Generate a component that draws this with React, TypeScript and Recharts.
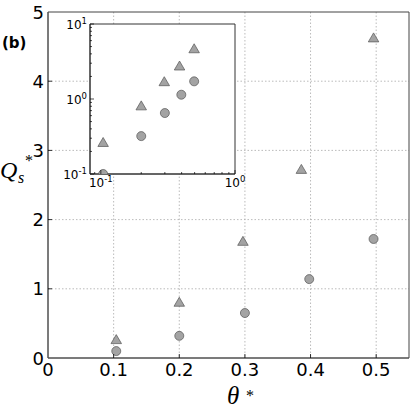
import React from "react";
import { ScatterChart, Scatter, XAxis, YAxis, CartesianGrid, ReferenceArea } from "recharts";

// ---- data ----
const thetaTri = [0.104, 0.2, 0.297, 0.386, 0.496];
const qTri = [0.26, 0.8, 1.68, 2.72, 4.62];
const thetaCirc = [0.104, 0.2, 0.3, 0.398, 0.496];
const qCirc = [0.1, 0.32, 0.65, 1.14, 1.72];

const mainXTicks = [0, 0.1, 0.2, 0.3, 0.4, 0.5];
const mainXLabels = ["0", "0.1", "0.2", "0.3", "0.4", "0.5"];
const mainYTicks = [0, 1, 2, 3, 4, 5];
const mainYLabels = ["0", "1", "2", "3", "4", "5"];
const mainXGrid = [0.1, 0.2, 0.3, 0.4, 0.5];
const mainYGrid = [1, 2, 3, 4];

const insetXMajor = [0.1, 1];
const insetXMajorExp = ["-1", "0"];
const insetYMajor = [0.1, 1, 10];
const insetYMajorExp = ["-1", "0", "1"];
const insetXMinor = [0.09, 0.2, 0.3, 0.4, 0.5, 0.6, 0.7, 0.8, 0.9];
const insetYMinor = [0.2, 0.3, 0.4, 0.5, 0.6, 0.7, 0.8, 0.9, 2, 3, 4, 5, 6, 7, 8, 9];

const triData = thetaTri.map((x, i) => ({ x, y: qTri[i] }));
const circData = thetaCirc.map((x, i) => ({ x, y: qCirc[i] }));

const FILL = "#a3a3a3";
const EDGE = "#555555";
const SANS = "'DejaVu Sans', sans-serif";
const SERIF = "'Liberation Serif', 'DejaVu Serif', serif";

const Triangle = (r: number) => (props: any) => {
  const { cx, cy } = props;
  if (cx == null || cy == null) return <g />;
  const h = r * 1.8;
  const w = r * 2.1;
  const pts = `${cx},${cy - h * 0.6} ${cx - w / 2},${cy + h * 0.4} ${cx + w / 2},${cy + h * 0.4}`;
  return <polygon points={pts} fill={FILL} stroke={EDGE} strokeWidth={0.7} />;
};
const Circle = (r: number) => (props: any) => {
  const { cx, cy } = props;
  if (cx == null || cy == null) return <g />;
  return <circle cx={cx} cy={cy} r={r} fill={FILL} stroke={EDGE} strokeWidth={0.7} />;
};

// main ticks
const MainXTick = (props: any) => {
  const { x, y, payload } = props;
  const i = mainXTicks.indexOf(payload.value);
  return (
    <g>
      {payload.value !== 0 ? (
        <line x1={x} x2={x} y1={y} y2={y - 4} stroke="#000" strokeWidth={0.8} />
      ) : null}
      <text x={x} y={y + 18} textAnchor="middle" fontFamily={SANS} fontSize={18} fill="#000">
        {mainXLabels[i]}
      </text>
    </g>
  );
};
const MainYTick = (props: any) => {
  const { x, y, payload } = props;
  const i = mainYTicks.indexOf(payload.value);
  return (
    <g>
      {payload.value !== 0 && payload.value !== 5 ? (
        <line x1={x} x2={x + 4} y1={y} y2={y} stroke="#000" strokeWidth={0.8} />
      ) : null}
      <text x={x - 4} y={y + 6.5} textAnchor="end" fontFamily={SANS} fontSize={18} fill="#000">
        {mainYLabels[i]}
      </text>
    </g>
  );
};

// inset ticks
const InsetXTick = (props: any) => {
  const { x, y, payload } = props;
  const mi = insetXMajor.indexOf(payload.value);
  const major = mi >= 0;
  return (
    <g>
      <line x1={x} x2={x} y1={y} y2={y - (major ? 4 : 2)} stroke="#000" strokeWidth={0.7} />
      {major ? (
        <text x={x} y={y + 13} textAnchor="middle" fontFamily={SANS} fontSize={12} fill="#000">
          10
          <tspan dy={-5} fontSize={8.5}>{insetXMajorExp[mi]}</tspan>
        </text>
      ) : null}
    </g>
  );
};
const InsetYTick = (props: any) => {
  const { x, y, payload } = props;
  const mi = insetYMajor.indexOf(payload.value);
  const major = mi >= 0;
  return (
    <g>
      <line x1={x} x2={x + (major ? 4 : 2)} y1={y} y2={y} stroke="#000" strokeWidth={0.7} />
      {major ? (
        <text x={x - 3} y={y + 4.5} textAnchor="end" fontFamily={SANS} fontSize={12} fill="#000">
          10
          <tspan dy={-5} fontSize={8.5}>{insetYMajorExp[mi]}</tspan>
        </text>
      ) : null}
    </g>
  );
};

export default function App() {
  const insetXTicks = [...insetXMajor, ...insetXMinor].sort((a, b) => a - b);
  const insetYTicks = [...insetYMajor, ...insetYMinor].sort((a, b) => a - b);
  return (
    <div style={{ position: "absolute", left: 0, top: 0, width: 415, height: 415, background: "#fff" }}>
      <div style={{ position: "absolute", left: 0, top: 0 }}>
        <ScatterChart width={415} height={415} margin={{ top: 12, right: 6, bottom: 0, left: 0 }}>
          <CartesianGrid
            xAxisId="b"
            yAxisId="l"
            stroke="#aaaaaa"
            strokeDasharray="1.5 2"
            strokeWidth={0.8}
            horizontalValues={mainYGrid}
            verticalValues={mainXGrid}
          />
          <XAxis
            xAxisId="b"
            type="number"
            dataKey="x"
            domain={[0, 0.55]}
            ticks={mainXTicks}
            interval={0}
            height={57}
            tickSize={0}
            tickMargin={0}
            tick={<MainXTick />}
            axisLine={{ stroke: "#555", strokeWidth: 1 }}
            tickLine={false}
            allowDataOverflow
          />
          <YAxis
            yAxisId="l"
            type="number"
            dataKey="y"
            domain={[0, 5]}
            ticks={mainYTicks}
            interval={0}
            width={48}
            tickSize={0}
            tickMargin={0}
            tick={<MainYTick />}
            axisLine={{ stroke: "#555", strokeWidth: 1 }}
            tickLine={false}
            allowDataOverflow
          />
          <ReferenceArea
            xAxisId="b"
            yAxisId="l"
            x1={0}
            x2={0.55}
            y1={0}
            y2={5}
            fill="none"
            fillOpacity={0}
            stroke="#444"
            strokeWidth={1}
            ifOverflow="visible"
          />
          <Scatter xAxisId="b" yAxisId="l" data={triData} shape={Triangle(5)} isAnimationActive={false} />
          <Scatter xAxisId="b" yAxisId="l" data={circData} shape={Circle(4.5)} isAnimationActive={false} />
        </ScatterChart>
      </div>
      <div style={{ position: "absolute", left: 0, top: 0 }}>
        <ScatterChart width={415} height={415} margin={{ top: 24, right: 180, bottom: 0, left: 0 }}>
          <ReferenceArea
            xAxisId="b"
            yAxisId="l"
            x1={0.083}
            x2={1}
            y1={0.1}
            y2={10}
            fill="#ffffff"
            fillOpacity={1}
            stroke="#333"
            strokeWidth={1}
            ifOverflow="visible"
          />
          <XAxis
            xAxisId="b"
            type="number"
            scale="log"
            dataKey="x"
            domain={[0.083, 1]}
            ticks={insetXTicks}
            interval={0}
            height={241}
            tickSize={0}
            tickMargin={0}
            tick={<InsetXTick />}
            axisLine={{ stroke: "#333", strokeWidth: 1 }}
            tickLine={false}
            allowDataOverflow
          />
          <YAxis
            yAxisId="l"
            type="number"
            scale="log"
            dataKey="y"
            domain={[0.1, 10]}
            ticks={insetYTicks}
            interval={0}
            width={90}
            tickSize={0}
            tickMargin={0}
            tick={<InsetYTick />}
            axisLine={{ stroke: "#333", strokeWidth: 1 }}
            tickLine={false}
            allowDataOverflow
          />
          <Scatter xAxisId="b" yAxisId="l" data={triData} shape={Triangle(5)} isAnimationActive={false} />
          <Scatter xAxisId="b" yAxisId="l" data={circData} shape={Circle(4.5)} isAnimationActive={false} />
        </ScatterChart>
      </div>
      <svg width={415} height={415} style={{ position: "absolute", left: 0, top: 0, pointerEvents: "none" }}>
        <text x={2} y={48} fontFamily={SANS} fontWeight="bold" fontSize={15} fill="#000">
          (b)
        </text>
        <text x={227} y={404} fontFamily={SERIF} fontStyle="italic" fontSize={25} fill="#000">
          θ
        </text>
        <text x={246} y={401} fontFamily={SERIF} fontSize={16} fill="#000">
          *
        </text>
        <text x={0} y={178} fontFamily={SERIF} fontStyle="italic" fontSize={24} fill="#000">
          Q
        </text>
        <text x={18} y={183} fontFamily={SERIF} fontStyle="italic" fontSize={16} fill="#000">
          s
        </text>
        <text x={25} y={166} fontFamily={SERIF} fontSize={16} fill="#000">
          *
        </text>
      </svg>
    </div>
  );
}
